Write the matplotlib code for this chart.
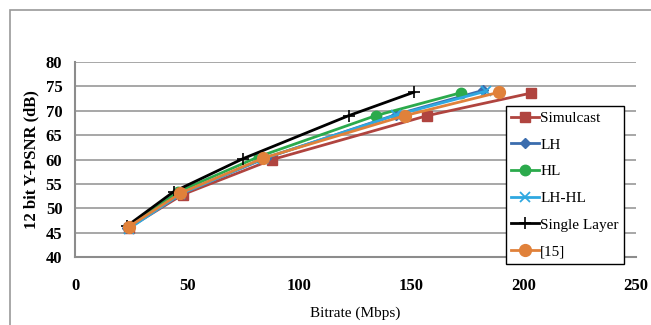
import matplotlib
matplotlib.use("Agg")
import matplotlib.pyplot as plt
from matplotlib.patches import Rectangle

# values (Bitrate in Mbps, PSNR in dB)
simulcast_rate = [24, 48, 88, 157, 203]
simulcast_psnr = [46.0, 52.8, 60.0, 69.0, 73.6]

lh_rate = [23, 47, 85, 143, 182]
lh_psnr = [46.0, 53.0, 60.3, 69.2, 74.2]

hl_rate = [24, 46, 82, 134, 172]
hl_psnr = [46.1, 53.4, 60.6, 69.0, 73.7]

lhhl_rate = [24, 47, 84, 143, 183]
lhhl_psnr = [45.8, 52.9, 60.2, 69.1, 74.0]

single_rate = [23, 44, 75, 122, 151]
single_psnr = [46.3, 53.4, 60.2, 69.0, 73.8]

ref15_rate = [24, 47, 84, 147, 189]
ref15_psnr = [46.2, 53.1, 60.3, 69.0, 73.8]

series = [
    ("Simulcast", simulcast_rate, simulcast_psnr, "#B0443F", "s", 7, None),
    ("LH", lh_rate, lh_psnr, "#3B6DAE", "D", 5.5, None),
    ("HL", hl_rate, hl_psnr, "#2BAA4C", "o", 7.5, None),
    ("LH-HL", lhhl_rate, lhhl_psnr, "#2FA8E0", "x", 7, 1.3),
    ("Single Layer", single_rate, single_psnr, "#000000", "+", 9, 1.2),
    ("[15]", ref15_rate, ref15_psnr, "#E0813A", "o", 8.5, None),
]

plt.rcParams["font.family"] = ["Liberation Serif", "DejaVu Serif"]

fig = plt.figure(figsize=(6.51, 3.25), dpi=100)
# outer chart-area border (only top and left edges are inside the picture)
fig.patches.append(Rectangle((10 / 651, -0.1), 1.2, 1 - 10 / 325 + 0.1,
                             transform=fig.transFigure, fill=False,
                             edgecolor="#999999", linewidth=1.2))

ax = fig.add_axes([75 / 651, 1 - 257 / 325, 561 / 651, 195 / 325])

for label, xs, ys, color, marker, ms, mew in series:
    kw = {}
    if mew is not None:
        kw["markeredgewidth"] = mew
    ax.plot(xs, ys, color=color, linewidth=2.0, marker=marker,
            markersize=ms, label=label, **kw)

ax.set_xlim(0, 250)
ax.set_ylim(40, 80)
ax.set_xticks([0, 50, 100, 150, 200, 250])
ax.set_yticks(range(40, 81, 5))
ax.tick_params(length=0, labelsize=12)
ax.tick_params(axis="y", pad=9)
ax.tick_params(axis="x", pad=15)
for t in ax.get_xticklabels() + ax.get_yticklabels():
    t.set_fontweight("bold")
ax.yaxis.grid(True, color="#A0A0A0", linewidth=1.3)
ax.set_axisbelow(True)

for side in ["top", "right"]:
    ax.spines[side].set_visible(False)
for side in ["left", "bottom"]:
    ax.spines[side].set_color("#8C8C8C")
    ax.spines[side].set_linewidth(1.5)

ax.set_ylabel("12 bit Y-PSNR (dB)", fontsize=12, fontweight="bold", labelpad=4.5)
ax.set_xlabel("Bitrate (Mbps)", fontsize=11, labelpad=9)

leg = ax.legend(loc="upper left", bbox_to_anchor=(0.768, 0.774),
                fontsize=11, frameon=True, fancybox=False,
                handlelength=1.8, handletextpad=0.1, labelspacing=0.85,
                borderpad=0.35, borderaxespad=0)
leg.get_frame().set_edgecolor("black")
leg.get_frame().set_linewidth(1.0)
leg.get_frame().set_alpha(1.0)

fig.savefig("out.png", dpi=100)
